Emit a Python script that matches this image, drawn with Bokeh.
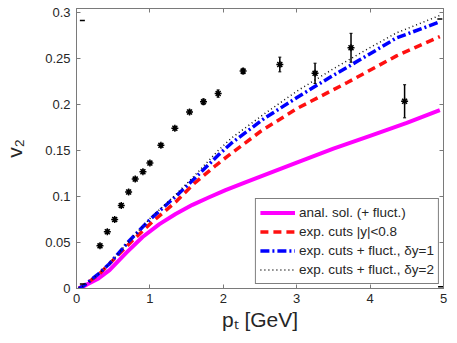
from bokeh.plotting import figure
from bokeh.models import (ColumnDataSource, Whisker, Legend, LegendItem, LinearAxis,
                          FixedTicker, CustomJSTickFormatter, Range1d, TeeHead)
from bokeh.embed import file_html
from bokeh.resources import INLINE

# ---------------- data ----------------
# analytic solution (+ fluct.)
anal_pt = [0.03, 0.135, 0.3, 0.45, 0.68, 0.9, 1.13, 1.35, 1.58, 1.8, 2.03, 2.3, 3.0, 3.5, 4.0, 4.5, 4.95]
anal_v2 = [0.0, 0.004, 0.011, 0.020, 0.039, 0.056, 0.070, 0.081, 0.091, 0.099, 0.107, 0.1155, 0.137, 0.152, 0.166, 0.180, 0.194]

# exp. cuts |y|<0.8
cut_pt = [0.03, 0.13, 0.3, 0.5, 0.76, 1.04, 1.35, 1.6, 1.9, 2.06, 2.51, 3.01, 3.69, 4.36, 4.95]
cut_v2 = [0.0, 0.005, 0.015, 0.031, 0.052, 0.073, 0.094, 0.114, 0.134, 0.144, 0.171, 0.196, 0.224, 0.253, 0.274]

# exp. cuts + fluct., dy=1
f1_pt = [0.03, 0.1, 0.3, 0.45, 0.72, 1.0, 1.35, 1.6, 1.93, 2.11, 2.56, 3.01, 3.46, 3.91, 4.36, 4.95]
f1_v2 = [0.0, 0.003, 0.016, 0.027, 0.052, 0.075, 0.100, 0.119, 0.145, 0.158, 0.185, 0.208, 0.230, 0.251, 0.2725, 0.290]

# exp. cuts + fluct., dy=2
f2_pt = [0.03, 0.1, 0.3, 0.45, 0.72, 1.0, 1.35, 1.6, 1.93, 2.11, 2.56, 3.01, 3.46, 3.91, 4.36, 4.95]
f2_v2 = [0.0, 0.003, 0.016, 0.027, 0.052, 0.076, 0.102, 0.122, 0.150, 0.1635, 0.190, 0.215, 0.237, 0.258, 0.278, 0.297]

# measured points
exp_pt = [0.32, 0.42, 0.52, 0.61, 0.71, 0.80, 0.905, 1.0, 1.15, 1.34, 1.54, 1.73, 1.93, 2.27, 2.77, 3.25, 3.74, 4.47]
exp_v2 = [0.0464, 0.0617, 0.075, 0.0903, 0.105, 0.119, 0.127, 0.1364, 0.1557, 0.1743, 0.192, 0.203, 0.212, 0.2364, 0.2436, 0.234, 0.2618, 0.2036]
exp_err = [0.002, 0.002, 0.002, 0.002, 0.002, 0.002, 0.002, 0.002, 0.002, 0.002, 0.002, 0.003, 0.004, 0.003, 0.008, 0.011, 0.0157, 0.018]

# small corner marks
corner_pt = [0.08, 4.95, 0.08, 4.96]
corner_v2 = [0.2915, 0.293, 0.005, 0.002]

x_ticks = [0, 1, 2, 3, 4, 5]
y_ticks = [0, 0.05, 0.1, 0.15, 0.2, 0.25, 0.3]

FONT = "Liberation Sans"
AX = "#7a7a7a"
TXT = "#262626"

p = figure(width=457, height=343, output_backend="svg", toolbar_location=None,
           x_range=Range1d(0, 5), y_range=Range1d(0, 0.3045),
           min_border_left=74, min_border_right=14, min_border_top=8, min_border_bottom=55)
p.background_fill_color = "white"
p.border_fill_color = "white"
p.outline_line_color = AX
p.xgrid.visible = False
p.ygrid.visible = False

fmt = CustomJSTickFormatter(code="return String(Math.round(tick*100)/100);")
for ax in p.xaxis + p.yaxis:
    ax.axis_line_color = AX
    ax.major_tick_line_color = AX
    ax.major_tick_in = 4
    ax.major_tick_out = 0
    ax.minor_tick_line_color = None
    ax.major_label_text_font = FONT
    ax.major_label_text_font_size = "13px"
    ax.major_label_text_color = TXT
    ax.formatter = fmt
    ax.axis_label_text_font = FONT
    ax.axis_label_text_font_size = "21px"
    ax.axis_label_text_font_style = "normal"
    ax.axis_label_text_color = TXT
p.xaxis.ticker = FixedTicker(ticks=x_ticks)
p.yaxis.ticker = FixedTicker(ticks=y_ticks)
p.xaxis.major_label_standoff = 5
p.yaxis.major_label_standoff = 6
p.xaxis.axis_label = "pₜ [GeV]"
p.yaxis.axis_label = "v₂"
p.xaxis.axis_label_standoff = 2
p.yaxis.axis_label_standoff = 16

# tick marks on the top and right edges (no labels)
for loc, tk in (("above", x_ticks), ("right", y_ticks)):
    a = LinearAxis(ticker=FixedTicker(ticks=tk), axis_line_color=AX, major_tick_line_color=AX,
                   major_tick_in=4, major_tick_out=0, minor_tick_line_color=None,
                   major_label_text_font_size="0px", major_label_text_color=None,
                   major_label_standoff=0)
    p.add_layout(a, loc)

# curves
r_anal = p.line(anal_pt, anal_v2, line_color="#ff00ff", line_width=4)
r_cut = p.line(cut_pt, cut_v2, line_color="#ff1010", line_width=3.5, line_dash="8 5")
r_f1 = p.line(f1_pt, f1_v2, line_color="#0000ff", line_width=3.5, line_dash="9 3 2 3")
r_f2 = p.line(f2_pt, f2_v2, line_color="#111111", line_width=1.5, line_dash="1 3")

# data points with error bars
src = ColumnDataSource(dict(x=exp_pt, y=exp_v2,
                            lo=[v - e for v, e in zip(exp_v2, exp_err)],
                            hi=[v + e for v, e in zip(exp_v2, exp_err)]))
w = Whisker(source=src, base="x", lower="lo", upper="hi", line_color="black", line_width=1.5,
            upper_head=TeeHead(size=3, line_color="black"), lower_head=TeeHead(size=3, line_color="black"))
p.add_layout(w)
p.scatter("x", "y", source=src, marker="asterisk", size=7, line_color="black", line_width=1.5)
p.scatter(corner_pt, corner_v2, marker="dash", size=5, line_color="black", line_width=1.5)

# legend
legend = Legend(items=[
    LegendItem(label="anal. sol. (+ fluct.)", renderers=[r_anal]),
    LegendItem(label="exp. cuts |y|<0.8", renderers=[r_cut]),
    LegendItem(label="exp. cuts + fluct., δy=1", renderers=[r_f1]),
    LegendItem(label="exp. cuts + fluct., δy=2", renderers=[r_f2]),
], location="bottom_right")
legend.margin = 4
legend.padding = 4
legend.spacing = 0
legend.label_height = 19
legend.glyph_height = 19
legend.glyph_width = 35
legend.label_standoff = 4
legend.label_text_font = FONT
legend.label_text_font_size = "13.5px"
legend.label_text_color = TXT
legend.border_line_color = "black"
legend.border_line_width = 1
legend.background_fill_alpha = 1
p.add_layout(legend, "center")

open("out.html", "w").write(file_html(p, INLINE))
